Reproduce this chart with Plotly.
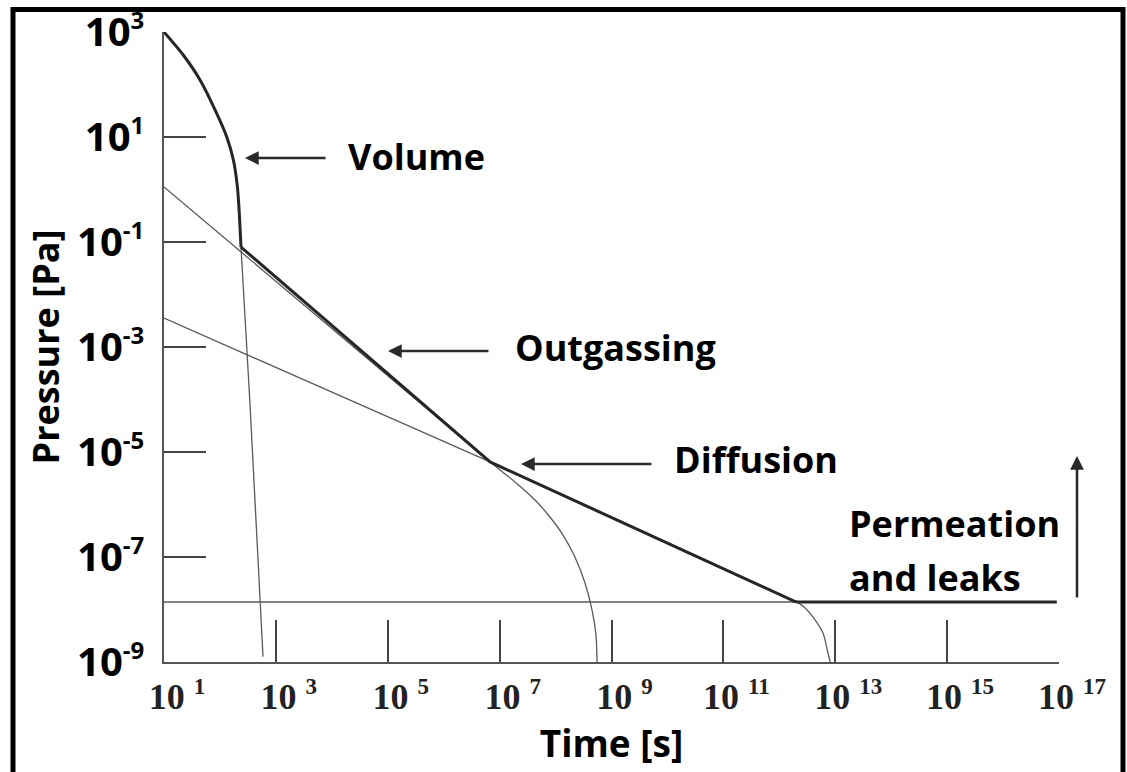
import plotly.graph_objects as go

# ---------------- data ----------------
# Volume (pump-down of the gas volume)
volume_t = [10, 22.1, 44.1, 87.5, 132, 174, 205, 222, 238, 347, 589]
volume_p = [1000, 365, 122, 28.2, 10.1, 3.65, 1.13, 0.352, 0.0800, 7.1e-5, 1.26e-9]

# Outgassing (surface desorption)
outgassing_t = [10, 6.76e6, 1.88e7, 4.29e7, 7.94e7, 1.36e8, 2.22e8, 3.36e8, 4.48e8, 5.28e8, 5.51e8]
outgassing_p = [1.12, 6.46e-6, 2.69e-6, 1.22e-6, 5.78e-7, 2.62e-7, 1.0e-7, 3.2e-8, 9.8e-9, 3.27e-9, 1.0e-9]

# Diffusion (bulk)
diffusion_t = [10, 6.76e6, 1.91e12, 2.09e12, 2.9e12, 3.98e12, 6.03e12, 7.41e12, 8.13e12]
diffusion_p = [3.55e-3, 6.46e-6, 1.45e-8, 1.38e-8, 1.07e-8, 7.24e-9, 3.55e-9, 1.48e-9, 1.0e-9]

# Permeation and leaks (constant floor)
permeation_t = [10, 9.1e16]
permeation_p = [1.39e-8, 1.39e-8]

# Resulting pressure envelope after the volume phase (thick line)
envelope_t = [238, 6.76e6, 1.91e12, 2.1e12, 9.1e16]
envelope_p = [0.0800, 6.46e-6, 1.42e-8, 1.39e-8, 1.39e-8]
volume_thick_n = 9  # number of volume points that belong to the thick envelope

# axis ticks
y_exponents = [3, 1, -1, -3, -5, -7, -9]
x_exponents = [1, 3, 5, 7, 9, 11, 13, 15, 17]

# ---------------- geometry helpers (pixel -> paper) ----------------
W, H = 1127, 772
L, R, T, B = 164, 68, 32, 110
PW, PH = W - L - R, H - T - B


def px(xp):
    return (xp - L) / PW


def py(yp):
    return (H - B - yp) / PH


THIN = dict(color="#5a5a5a", width=1.3)
THICK = dict(color="#262626", width=3)

fig = go.Figure()

fig.add_trace(go.Scatter(x=permeation_t, y=permeation_p, mode="lines", line=THIN,
                         name="Permeation", hoverinfo="skip"))
fig.add_trace(go.Scatter(x=volume_t, y=volume_p, mode="lines",
                         line=dict(THIN, shape="spline", smoothing=0.6),
                         name="Volume", hoverinfo="skip"))
fig.add_trace(go.Scatter(x=outgassing_t, y=outgassing_p, mode="lines",
                         line=dict(THIN, shape="spline", smoothing=0.8),
                         name="Outgassing", hoverinfo="skip"))
fig.add_trace(go.Scatter(x=diffusion_t, y=diffusion_p, mode="lines",
                         line=dict(THIN, shape="spline", smoothing=0.8),
                         name="Diffusion", hoverinfo="skip"))
fig.add_trace(go.Scatter(x=volume_t[:volume_thick_n], y=volume_p[:volume_thick_n], mode="lines",
                         line=dict(THICK, shape="spline", smoothing=0.6),
                         name="Volume (total)", hoverinfo="skip"))
fig.add_trace(go.Scatter(x=envelope_t, y=envelope_p, mode="lines", line=THICK,
                         name="Total", hoverinfo="skip"))

SANS = "Open Sans"
TXT = dict(family=SANS, size=36, color="#000000", weight="bold")

annotations = []
# labels
for text, xc, yc, anchor in [
    ("Volume", 346, 156, "left"),
    ("Outgassing", 513, 347, "left"),
    ("Diffusion", 672, 459, "left"),
    ("Permeation", 847, 523, "left"),
    ("and leaks", 847, 577, "left"),
]:
    annotations.append(dict(text=text, x=px(xc), y=py(yc), xref="paper", yref="paper",
                            xanchor=anchor, yanchor="middle", showarrow=False, font=TXT))

# arrows: (tail_x, tail_y, head_x, head_y)
for tx, ty, hx, hy in [
    (327, 158, 245, 158),
    (490, 351, 388, 351),
    (653, 464, 521, 464),
    (1077, 599, 1077, 456),
]:
    annotations.append(dict(text="", x=px(hx), y=py(hy), xref="paper", yref="paper",
                            ax=tx - hx, ay=ty - hy, axref="pixel", ayref="pixel",
                            showarrow=True, arrowhead=2, arrowsize=1.1, arrowwidth=2.5,
                            arrowcolor="#2a2a2a", standoff=0, startstandoff=0))

shapes = [dict(type="rect", xref="paper", yref="paper",
               x0=px(13), x1=px(1123), y0=py(800), y1=py(9.5),
               line=dict(color="#000000", width=5), fillcolor="rgba(0,0,0,0)")]

fig.update_layout(
    width=W, height=H, autosize=False,
    margin=dict(l=L, r=R, t=T, b=B),
    paper_bgcolor="white", plot_bgcolor="white",
    showlegend=False,
    annotations=annotations,
    shapes=shapes,
)

fig.update_xaxes(
    type="log", range=[1, 17],
    tickvals=[10 ** k for k in x_exponents],
    ticktext=[f"10 <sup><span style='font-size:23px'>{k}</span></sup>" for k in x_exponents],
    tickfont=dict(family="Liberation Serif", size=36, color="#222222", weight="bold"),
    ticks="inside", ticklen=42, tickwidth=1.5, tickcolor="#444444",
    showline=True, linecolor="#555555", linewidth=1.5,
    showgrid=False, zeroline=False, ticklabelshift=13, ticklabelstandoff=2,
    title=dict(text="Time [s]", font=dict(family=SANS, size=37, color="#000000", weight="bold"),
               standoff=4),
    automargin=False,
)
fig.update_yaxes(
    type="log", range=[-9, 3],
    tickvals=[10 ** k for k in y_exponents],
    ticktext=[f"10<sup><span style='font-size:24px'>{k}</span></sup>" for k in y_exponents],
    tickfont=dict(family=SANS, size=40, color="#000000", weight="bold"),
    ticks="inside", ticklen=42, tickwidth=1.5, tickcolor="#444444",
    showline=True, linecolor="#555555", linewidth=1.5,
    showgrid=False, zeroline=False, ticklabelstandoff=10,
    title=dict(text="Pressure [Pa]", font=dict(family=SANS, size=36, color="#000000", weight="bold"),
               standoff=6),
    automargin=False,
)

fig.write_html(
    "out.html",
    config={"displayModeBar": False},
    post_script="document.body.style.margin='0';document.body.style.overflow='hidden';",
)
